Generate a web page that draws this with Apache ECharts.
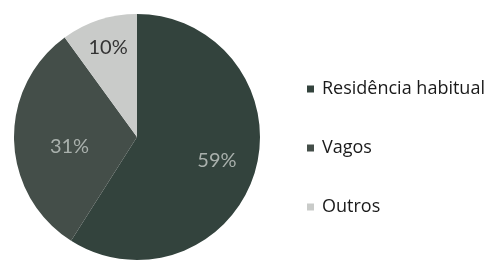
<!DOCTYPE html>
<html>
<head>
<meta charset="utf-8">
<script src="https://cdn.jsdelivr.net/npm/echarts@6/dist/echarts.min.js"></script>
<style>
  html, body { margin: 0; padding: 0; background: #fff; }
  #chart { width: 492px; height: 260px; }
</style>
</head>
<body>
<div id="chart"></div>
<script>
// data
var categories = ['Residência habitual', 'Vagos', 'Outros'];
var shares = [59, 31, 10];
var sliceColors = ['#33433d', '#444e49', '#c9cbc9'];
var labelColors = ['#a9b0ac', '#a9b0ac', '#333333'];
// nudge labels a bit away from the default mid-radius spot
var labelOffsets = [[18, 6], [-3, 8], [-9, -28]];

var myChart = echarts.init(document.getElementById('chart'));

var pieData = categories.map(function (name, i) {
    return {
        name: name,
        value: shares[i],
        itemStyle: { color: sliceColors[i] },
        label: { color: labelColors[i], offset: labelOffsets[i] }
    };
});

var option = {
    animation: false,
    legend: {
        orient: 'vertical',
        left: 302,
        top: 75,
        itemGap: 41,
        itemWidth: 7,
        itemHeight: 7,
        icon: 'rect',
        data: categories,
        textStyle: {
            fontFamily: 'Open Sans',
            fontSize: 18,
            color: '#1a1a1a',
            padding: [0, 0, 0, 3]
        }
    },
    series: [{
        type: 'pie',
        center: [137, 137],
        radius: 123,
        startAngle: 90,
        clockwise: true,
        silent: true,
        label: {
            show: true,
            position: 'inside',
            formatter: '{c}%',
            fontFamily: 'Lato',
            fontSize: 20
        },
        labelLine: { show: false },
        itemStyle: { borderWidth: 0 },
        data: pieData
    }]
};

myChart.setOption(option);
</script>
</body>
</html>
